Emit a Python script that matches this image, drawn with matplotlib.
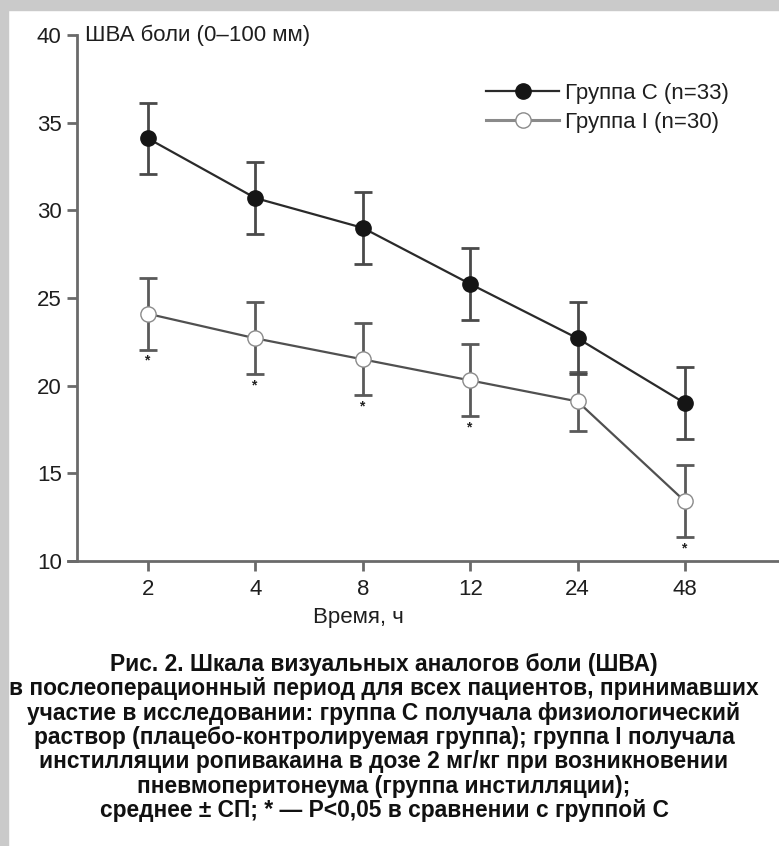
import matplotlib
matplotlib.use("Agg")
import matplotlib.pyplot as plt
from matplotlib.lines import Line2D
from matplotlib.patches import Rectangle

# ---- data ----
time_labels = ["2", "4", "8", "12", "24", "48"]
group_c_mean = [34.1, 30.7, 29.0, 25.8, 22.7, 19.0]
group_c_sd = [2.05, 2.05, 2.05, 2.05, 2.05, 2.05]
group_i_mean = [24.1, 22.7, 21.5, 20.3, 19.1, 13.4]
group_i_sd = [2.05, 2.05, 2.05, 2.05, 1.7, 2.05]
significant = [True, True, True, True, False, True]
y_ticks = [10, 15, 20, 25, 30, 35, 40]
label_c = "Группа C (n=33)"
label_i = "Группа I (n=30)"
y_title = "ШВА боли (0–100 мм)"
x_title = "Время, ч"
caption = ("Рис. 2. Шкала визуальных аналогов боли (ШВА)\n"
           "в послеоперационный период для всех пациентов, принимавших\n"
           "участие в исследовании: группа С получала физиологический\n"
           "раствор (плацебо-контролируемая группа); группа I получала\n"
           "инстилляции ропивакаина в дозе 2 мг/кг при возникновении\n"
           "пневмоперитонеума (группа инстилляции);\n"
           "среднее ± СП; * — P<0,05 в сравнении с группой С")

plt.rcParams['font.family'] = ['Liberation Sans', 'DejaVu Sans']

W, H = 779, 846
fig = plt.figure(figsize=(W / 100, H / 100), dpi=100)
fig.patch.set_facecolor("white")

# gray frame (top and left)
gray = "#cacaca"
fig.patches.append(Rectangle((0, 1 - 10 / H), 1, 10 / H, transform=fig.transFigure,
                             color=gray, zorder=-10))
fig.patches.append(Rectangle((0, 0), 8 / W, 1, transform=fig.transFigure,
                             color=gray, zorder=-10))

ax_left, ax_right = 77, 779
ax_top, ax_bottom = 35, 561
ax = fig.add_axes([ax_left / W, 1 - ax_bottom / H, (ax_right - ax_left) / W,
                   (ax_bottom - ax_top) / H])
ax.set_facecolor("none")

x = list(range(len(time_labels)))
px_per_cat = 107.4
ax.set_xlim((ax_left - 148) / px_per_cat, (ax_right - 148) / px_per_cat)
ax.set_ylim(10, 40)

spine_col = "#6a6a6a"
txt_col = "#1e1e1e"
for s in ["top", "right"]:
    ax.spines[s].set_visible(False)
for s in ["left", "bottom"]:
    ax.spines[s].set_color(spine_col)
    ax.spines[s].set_linewidth(2.0)
ax.spines["bottom"].set_bounds(ax.get_xlim()[0] - 0.08, ax.get_xlim()[1])

ax.set_yticks(y_ticks)
ax.set_xticks(x)
ax.set_xticklabels(time_labels)
ax.tick_params(axis="both", colors=spine_col, width=2.0, length=7, labelsize=16,
               labelcolor=txt_col, pad=4)
ax.tick_params(axis="y", pad=4)
ax.tick_params(axis="x", pad=6)

err_col = "#4a4a4a"
# group I
ax.errorbar(x, group_i_mean, yerr=group_i_sd, fmt="none", ecolor="#5a5a5a",
            elinewidth=2.0, capsize=6.5, capthick=2.0, zorder=2)
ax.plot(x, group_i_mean, color="#505050", lw=1.6, marker="o", markersize=11,
        markerfacecolor="white", markeredgecolor="#8a8a8a", markeredgewidth=1.0,
        zorder=3)
# group C
ax.errorbar(x, group_c_mean, yerr=group_c_sd, fmt="none", ecolor=err_col,
            elinewidth=2.0, capsize=6.5, capthick=2.0, zorder=4)
ax.plot(x, group_c_mean, color="#2a2a2a", lw=1.6, marker="o", markersize=11,
        markerfacecolor="#151515", markeredgecolor="#151515", zorder=5)

# significance asterisks
for xi, m, sd, sig in zip(x, group_i_mean, group_i_sd, significant):
    if sig:
        ax.annotate("*", xy=(xi, m - sd), xytext=(-1, -3), textcoords="offset points",
                    ha="center", va="top", fontsize=10, fontweight="bold",
                    color="#222222")

# axis titles
ax.text(8 / (ax_right - ax_left), 1.0, y_title, transform=ax.transAxes,
        ha="left", va="center", fontsize=16, color=txt_col)
fig.text(358 / W, 1 - 617 / H, x_title, ha="center", va="center", fontsize=16,
         color=txt_col)

# legend
handles = [
    Line2D([], [], color="#2a2a2a", lw=1.6, marker="o", markersize=11,
           markerfacecolor="#151515", markeredgecolor="#151515"),
    Line2D([], [], color="#8a8a8a", lw=2.2, marker="o", markersize=11,
           markerfacecolor="white", markeredgecolor="#8a8a8a", markeredgewidth=1.0),
]
fig.legend(handles, [label_c, label_i], loc="upper left",
           bbox_to_anchor=(486 / W, 1 - 83 / H), frameon=False, fontsize=16,
           handlelength=3.3, handletextpad=0.25, labelspacing=0.36,
           borderpad=0, borderaxespad=0, labelcolor=txt_col)

# caption
fig.text(384 / W, 1 - 653 / H, caption, ha="center", va="top", fontsize=16.4,
         fontweight="bold", color="#111111", linespacing=1.075)

fig.savefig("out.png", dpi=100, facecolor="white")
